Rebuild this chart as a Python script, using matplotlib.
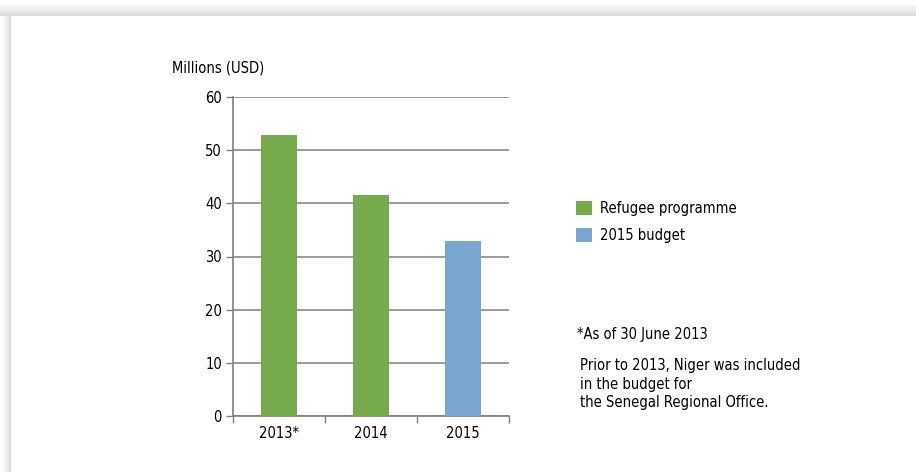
import numpy as np
import matplotlib
matplotlib.use("Agg")
import matplotlib.pyplot as plt

# data
years = ["2013*", "2014", "2015"]
refugee_years = ["2013*", "2014"]
refugee_values = [52.9, 41.5]
budget_years = ["2015"]
budget_values = [32.9]
y_ticks = [0, 10, 20, 30, 40, 50, 60]

plt.rcParams['font.family'] = ['DejaVu Sans']
plt.rcParams['font.stretch'] = 'condensed'

W, H = 916, 472
fig = plt.figure(figsize=(W / 100, H / 100), dpi=100)
fig.patch.set_facecolor("white")

# card shadow along the top and left edges
bg = fig.add_axes([0, 0, 1, 1], zorder=-10)
bg.set_xlim(0, W)
bg.set_ylim(H, 0)
bg.axis("off")
img = np.ones((H, W))
card_x, card_y = 11, 16
for yy in range(card_y):
    img[yy, :] = 1 - 0.16 * (yy / card_y) ** 1.5
for xx in range(card_x):
    img[card_y:, xx] = np.minimum(img[card_y:, xx], 1 - 0.16 * (xx / card_x) ** 1.5)
bg.imshow(img, cmap="gray", vmin=0, vmax=1, extent=(0, W, H, 0), aspect="auto")

# main chart
ax = fig.add_axes([233 / W, 1 - 416 / H, 276 / W, 319 / H])
x = np.arange(len(years))
pos = {y: i for i, y in enumerate(years)}
bar_w = 0.4
green = "#76AB4C"
blue = "#79A6CE"
b1 = ax.bar([pos[y] for y in refugee_years], refugee_values, width=bar_w, color=green,
            label="Refugee programme", zorder=3)
b2 = ax.bar([pos[y] for y in budget_years], budget_values, width=bar_w, color=blue,
            label="2015 budget", zorder=3)

fs = 10.5
ax.set_xlim(-0.5, len(years) - 0.5)
ax.set_ylim(0, 60)
ax.set_yticks(y_ticks)
ax.tick_params(axis="y", length=5, width=1, color="#7f7f7f", labelsize=fs, pad=3)
ax.set_xticks(x)
ax.set_xticklabels(years)
ax.tick_params(axis="x", length=0, labelsize=fs, pad=7)
# boundary ticks on the x axis
ax.set_xticks(np.arange(-0.5, len(years)), minor=True)
ax.tick_params(axis="x", which="minor", length=5, width=1, color="#7f7f7f")
ax.grid(axis="y", color="#8a8a8a", linewidth=1.2, zorder=0)
for s in ["top", "right"]:
    ax.spines[s].set_visible(False)
ax.spines["left"].set_color("#7f7f7f")
ax.spines["bottom"].set_color("#7f7f7f")
ax.spines["left"].set_linewidth(1.2)
ax.spines["bottom"].set_linewidth(1.2)

fig.text(172 / W, 1 - 68 / H, "Millions (USD)", fontsize=fs, va="center", ha="left")

ax.legend(handles=[b1, b2], loc="upper left", bbox_to_anchor=(576 / W, 1 - 201 / H),
          bbox_transform=fig.transFigure, frameon=False, fontsize=fs,
          borderpad=0, borderaxespad=0,
          handlelength=1.1, handleheight=1.1, handletextpad=0.55, labelspacing=0.8)

fig.text(577 / W, 1 - 335 / H, "*As of 30 June 2013", fontsize=fs, va="center", ha="left")
fig.text(580 / W, 1 - 358 / H,
         "Prior to 2013, Niger was included\nin the budget for\nthe Senegal Regional Office.",
         fontsize=fs, va="top", ha="left", linespacing=1.3)

fig.savefig("out.png", dpi=100)
